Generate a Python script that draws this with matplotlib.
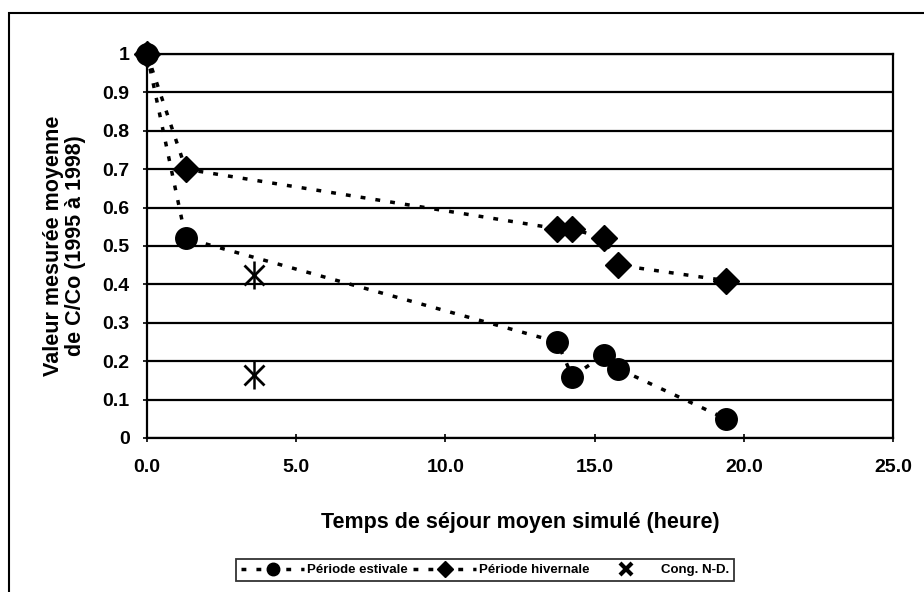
import numpy as np
import matplotlib
matplotlib.use("Agg")
from matplotlib import pyplot as plt
from matplotlib.patches import Rectangle
from matplotlib.lines import Line2D

plt.rcParams['font.family'] = ['Liberation Sans', 'DejaVu Sans']
plt.rcParams['font.weight'] = 'bold'

# temps de séjour (heure)
temps = [0.0, 1.3, 13.75, 14.25, 15.3, 15.8, 19.4]
estivale = [1.0, 0.52, 0.25, 0.16, 0.215, 0.18, 0.05]
hivernale = [1.0, 0.70, 0.545, 0.545, 0.52, 0.45, 0.41]
cong_x = [3.6, 3.6]
cong_y = [0.425, 0.165]

x_ticks = [0, 5, 10, 15, 20, 25]
y_ticks = [0, 0.1, 0.2, 0.3, 0.4, 0.5, 0.6, 0.7, 0.8, 0.9, 1]
y_labels = ['0', '0.1', '0.2', '0.3', '0.4', '0.5', '0.6', '0.7', '0.8', '0.9', '1']

dots = (0, (1.4, 2.9))

fig = plt.figure(figsize=(9.24, 5.92), dpi=100)
ax = fig.add_axes([147 / 924, 1 - 438 / 592, (893 - 147) / 924, (438 - 54) / 592])

# cadre extérieur
fig.patches.append(Rectangle((9 / 924, -0.1), 1.2, 1 - 13 / 592 + 0.1, transform=fig.transFigure,
                             fill=False, edgecolor='black', linewidth=1.5))

ax.plot(temps, estivale, color='black', linewidth=2.5, linestyle=dots, clip_on=False, zorder=3)
ax.plot(temps, hivernale, color='black', linewidth=2.5, linestyle=dots, clip_on=False, zorder=3)
ax.plot(temps, estivale, 'o', color='black', markersize=15.5, clip_on=False, zorder=4)
ax.plot(temps, hivernale, 'D', color='black', markersize=13.5, clip_on=False, zorder=4)
# marqueur "X" avec trait vertical (style Excel)
ax.plot(cong_x, cong_y, 'x', color='black', markersize=15, markeredgewidth=2, clip_on=False, zorder=4)
ax.plot(cong_x, cong_y, '|', color='black', markersize=20, markeredgewidth=1.8, clip_on=False, zorder=4)

ax.set_xlim(0, 25)
ax.set_ylim(0, 1)
ax.set_xticks(x_ticks)
ax.set_xticklabels(['%.1f' % v for v in x_ticks])
ax.set_yticks(y_ticks)
ax.set_yticklabels(y_labels)
ax.yaxis.grid(True, color='black', linewidth=1.6)
ax.set_axisbelow(True)
for s in ax.spines.values():
    s.set_linewidth(1.6)
ax.tick_params(axis='both', which='major', labelsize=14, direction='inout', length=6, width=1.2)
ax.tick_params(axis='y', pad=9.5)
ax.tick_params(axis='x', pad=12)
for lab in ax.get_xticklabels() + ax.get_yticklabels():
    lab.set_fontweight('bold')

ax.set_xlabel("Temps de séjour moyen simulé (heure)", fontsize=15.5, fontweight='bold', labelpad=26)
ax.set_ylabel("Valeur mesurée moyenne\nde C/Co (1995 à 1998)", fontsize=15.5, fontweight='bold',
              labelpad=12, linespacing=1.05)

handles = [
    Line2D([], [], color='black', linestyle=dots, linewidth=2.5, marker='o', markersize=9),
    Line2D([], [], color='black', linestyle=dots, linewidth=2.5, marker='D', markersize=8),
    Line2D([], [], color='black', linestyle='none', marker='x', markersize=8, markeredgewidth=3),
]
leg = fig.legend(handles, ["Période estivale", "Période hivernale", "Cong. N-D."],
                 loc='center', bbox_to_anchor=(485 / 924, 1 - 570 / 592), ncol=3,
                 fontsize=9.5, frameon=True, fancybox=False, edgecolor='black',
                 handlelength=4.8, columnspacing=0.4, handletextpad=0.2, borderpad=0.35,
                 borderaxespad=0)
leg.get_frame().set_linewidth(1.3)

fig.savefig('out.png', dpi=100)
